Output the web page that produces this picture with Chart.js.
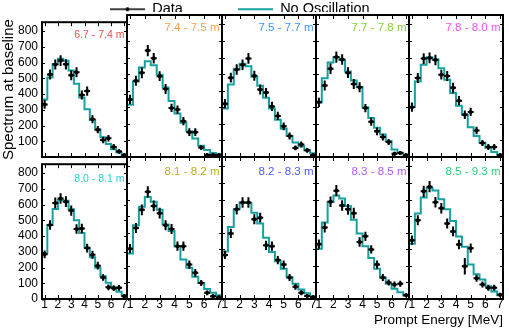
<!DOCTYPE html>
<html>
<head>
<meta charset="utf-8">
<script src="https://cdn.jsdelivr.net/npm/chart.js@4.4.1/dist/chart.umd.min.js"></script>
<style>
  html, body { margin: 0; padding: 0; background: #fff; }
  #fig { position: relative; width: 509px; height: 329px; overflow: hidden; background: #fff; }
  #fig canvas { position: absolute; }
</style>
</head>
<body>
<div id="fig"></div>
<script>
// bins: 16 x 0.4 MeV from 0.8 to 7.2 MeV
const binEdges = [0.8, 1.2, 1.6, 2.0, 2.4, 2.8, 3.2, 3.6, 4.0, 4.4, 4.8, 5.2, 5.6, 6.0, 6.4, 6.8, 7.2];
const binCenters = [1.0, 1.4, 1.8, 2.2, 2.6, 3.0, 3.4, 3.8, 4.2, 4.6, 5.0, 5.4, 5.8, 6.2, 6.6, 7.0];

const baselines = ["6.7 - 7.4 m", "7.4 - 7.5 m", "7.5 - 7.7 m", "7.7 - 7.8 m", "7.8 - 8.0 m",
                   "8.0 - 8.1 m", "8.1 - 8.2 m", "8.2 - 8.3 m", "8.3 - 8.5 m", "8.5 - 9.3 m"];
const baselineColors = ["#f54b4b", "#f5a050", "#3c96ff", "#82d23c", "#f550f0",
                        "#28d2d2", "#b9af28", "#505aff", "#b45aff", "#28d278"];
const legendLabels = ["Data", "No Oscillation"];

// No Oscillation prediction per baseline segment
const noOsc1  = [365, 506, 592, 625, 612, 550, 465, 378, 303, 235, 175, 125, 83, 50, 29, 12];
const noOsc2  = [315, 455, 540, 578, 553, 496, 420, 338, 262, 206, 156, 112, 68, 42, 24, 16];
const noOsc3  = [292, 437, 530, 563, 548, 485, 430, 357, 293, 225, 170, 128, 87, 65, 40, 22];
const noOsc4  = [330, 476, 570, 602, 586, 516, 462, 422, 300, 236, 176, 136, 96, 46, 26, 14];
const noOsc5  = [302, 456, 556, 602, 590, 536, 466, 386, 310, 256, 180, 126, 86, 56, 30, 10];
const noOsc6  = [291, 471, 572, 630, 624, 570, 501, 420, 326, 266, 198, 144, 104, 74, 46, 24];
const noOsc7  = [274, 445, 557, 616, 587, 539, 450, 410, 319, 238, 188, 135, 97, 61, 38, 23];
const noOsc8  = [286, 435, 541, 582, 580, 521, 455, 370, 284, 228, 183, 132, 92, 57, 34, 16];
const noOsc9  = [304, 461, 587, 624, 607, 561, 478, 395, 319, 248, 183, 129, 92, 62, 41, 21];
const noOsc10 = [334, 516, 612, 670, 655, 602, 541, 471, 377, 316, 208, 150, 117, 77, 46, 23];

// measured spectra
const data1  = [334, 524, 588, 613, 589, 520, 539, 394, 419, 240, 174, 108, 119, 64, 35, 12];
const data2  = [347, 460, 508, 642, 596, 488, 410, 296, 286, 216, 150, 150, 58, 12, 12, 12];
const data3  = [322, 479, 528, 557, 595, 490, 407, 389, 305, 248, 185, 127, 55, 75, 40, 10];
const data4  = [330, 431, 533, 603, 588, 509, 440, 421, 295, 213, 155, 120, 90, 20, 24, 10];
const data5  = [301, 477, 594, 598, 585, 497, 489, 418, 340, 255, 272, 160, 85, 61, 61, 12];
const data6  = [284, 470, 611, 639, 619, 562, 445, 448, 324, 281, 212, 137, 74, 69, 71, 18];
const data7  = [304, 428, 538, 647, 562, 518, 445, 423, 319, 319, 208, 158, 97, 37, 16, 10];
const data8  = [266, 396, 542, 582, 582, 481, 491, 324, 319, 235, 208, 130, 74, 38, 18, 11];
const data9  = [331, 432, 587, 654, 564, 541, 518, 344, 378, 299, 208, 130, 99, 87, 92, 23];
const data10 = [355, 475, 650, 678, 584, 548, 456, 408, 329, 198, 307, 125, 87, 68, 68, 26];

// error bars (half length)
const err1  = [28, 32, 32, 34, 32, 32, 32, 28, 30, 25, 23, 21, 21, 18, 15, 12];
const err2  = [28, 30, 32, 34, 32, 30, 30, 25, 25, 25, 23, 23, 15, 12, 12, 12];
const err3  = [28, 30, 32, 32, 32, 30, 30, 28, 28, 25, 23, 21, 15, 18, 15, 12];
const err4  = [28, 30, 32, 34, 32, 32, 30, 30, 25, 25, 23, 21, 18, 12, 12, 12];
const err5  = [28, 30, 32, 32, 32, 30, 30, 30, 28, 25, 25, 23, 18, 18, 18, 12];
const err6  = [25, 30, 34, 34, 34, 32, 30, 30, 28, 25, 25, 21, 18, 18, 18, 12];
const err7  = [28, 30, 32, 34, 32, 32, 30, 30, 28, 28, 25, 23, 18, 15, 12, 12];
const err8  = [25, 28, 32, 32, 32, 30, 30, 28, 28, 25, 25, 21, 18, 15, 12, 12];
const err9  = [28, 30, 32, 34, 32, 32, 32, 28, 28, 25, 25, 21, 18, 18, 18, 12];
const err10 = [28, 30, 34, 34, 32, 32, 30, 30, 28, 50, 28, 21, 18, 18, 18, 12];

const yTicksMax = 857;
const xTitle = "Prompt Energy [MeV]";
const yTitle = "Spectrum at baseline";

const noOscAll = [noOsc1, noOsc2, noOsc3, noOsc4, noOsc5, noOsc6, noOsc7, noOsc8, noOsc9, noOsc10];
const dataAll = [data1, data2, data3, data4, data5, data6, data7, data8, data9, data10];
const errAll = [err1, err2, err3, err4, err5, err6, err7, err8, err9, err10];

// page layout of the 5x2 grid of plot areas
const colEdges = [42, 127, 222, 316, 409, 503];
const rowEdges = [15, 157, 299];
const M = { left: 42, right: 6, top: 4, bottom: 30 };
const TEAL = "#17a0a0";
const FONT = "'Liberation Sans', Arial, Helvetica, sans-serif";

Chart.defaults.font.family = FONT;
Chart.defaults.color = "#000";

const fig = document.getElementById("fig");

function addCanvas(left, top, w, h) {
    const cv = document.createElement("canvas");
    cv.width = w;
    cv.height = h;
    cv.style.left = left + "px";
    cv.style.top = top + "px";
    cv.style.width = w + "px";
    cv.style.height = h + "px";
    fig.appendChild(cv);
    return cv;
}

// frame, inward ticks, error bars and the baseline label
const panelDeco = {
    id: "panelDeco",
    afterDatasetsDraw(chart, args, opts) {
        const ctx = chart.ctx;
        const xs = chart.scales.x, ys = chart.scales.y;
        ctx.save();
        ctx.strokeStyle = "#000";
        ctx.lineWidth = 2;
        opts.values.forEach((v, i) => {
            const px = xs.getPixelForValue(binCenters[i]);
            const y1 = ys.getPixelForValue(v + opts.err[i]);
            const y2 = ys.getPixelForValue(Math.max(v - opts.err[i], 0));
            const py = ys.getPixelForValue(v);
            ctx.beginPath();
            ctx.moveTo(px, y1);
            ctx.lineTo(px, y2);
            ctx.moveTo(px - 3, py);
            ctx.lineTo(px + 3, py);
            ctx.stroke();
        });
        ctx.restore();
    },
    afterDraw(chart, args, opts) {
        const ctx = chart.ctx;
        const a = chart.chartArea;
        const xs = chart.scales.x, ys = chart.scales.y;
        ctx.save();
        ctx.strokeStyle = "#000";
        ctx.lineWidth = 1;
        ctx.beginPath();
        xs.ticks.forEach(t => {
            const px = Math.round(xs.getPixelForValue(t.value)) + 0.5;
            ctx.moveTo(px, a.bottom); ctx.lineTo(px, a.bottom - 4);
            ctx.moveTo(px, a.top); ctx.lineTo(px, a.top + 4);
        });
        ys.ticks.forEach(t => {
            const py = Math.round(ys.getPixelForValue(t.value)) + 0.5;
            ctx.moveTo(a.left, py); ctx.lineTo(a.left + 3, py);
            ctx.moveTo(a.right, py); ctx.lineTo(a.right - 3, py);
        });
        ctx.stroke();

        ctx.lineWidth = 2;
        ctx.strokeRect(a.left, a.top, a.right - a.left, a.bottom - a.top);

        ctx.fillStyle = opts.color;
        ctx.font = opts.labelSize + "px " + FONT;
        ctx.textAlign = "right";
        ctx.textBaseline = "middle";
        ctx.fillText(opts.label, a.right - 2.5, a.top + opts.labelDy);

        if (opts.xTitle) {
            ctx.fillStyle = "#000";
            ctx.font = "13.5px " + FONT;
            ctx.textAlign = "right";
            ctx.fillText(opts.xTitle, a.right, chart.height - 8.5);
        }
        ctx.restore();
    }
};

function makePanel(i) {
    const col = i % 5, row = Math.floor(i / 5);
    const plotL = colEdges[col], plotR = colEdges[col + 1];
    const plotT = rowEdges[row], plotB = rowEdges[row + 1];
    const w = plotR - plotL + M.left + M.right;
    const h = plotB - plotT + M.top + M.bottom;
    const cv = addCanvas(plotL - M.left, plotT - M.top, w, h);

    const hist = binEdges.map((e, k) => ({ x: e, y: noOscAll[i][Math.min(k, 15)] }));
    const pts = binCenters.map((c, k) => ({ x: c, y: dataAll[i][k] }));

    new Chart(cv, {
        type: "line",
        data: {
            datasets: [
                {
                    label: legendLabels[0],
                    data: pts,
                    showLine: false,
                    pointRadius: 2,
                    pointHoverRadius: 0,
                    pointBorderWidth: 0,
                    pointBackgroundColor: "#000",
                },
                {
                    label: legendLabels[1],
                    data: hist,
                    stepped: true,
                    borderColor: TEAL,
                    borderWidth: 2,
                    pointRadius: 0,
                    fill: false,
                },
            ],
        },
        options: {
            responsive: false,
            animation: false,
            devicePixelRatio: 1,
            events: [],
            layout: { padding: { left: 0, right: M.right, top: M.top, bottom: 0 } },
            scales: {
                x: {
                    type: "linear",
                    min: 0.8,
                    max: 7.2,
                    grid: { display: false, drawTicks: false },
                    border: { display: false },
                    ticks: {
                        display: row === 1,
                        stepSize: 1,
                        includeBounds: false,
                        autoSkip: false,
                        maxRotation: 0,
                        padding: 0,
                        font: { size: 12, lineHeight: 1 },
                        color: "#000",
                    },
                    afterFit: s => { s.height = M.bottom; },
                },
                y: {
                    type: "linear",
                    min: 0,
                    max: yTicksMax,
                    grid: { display: false, drawTicks: false },
                    border: { display: false },
                    ticks: {
                        display: col === 0,
                        stepSize: 100,
                        includeBounds: false,
                        autoSkip: false,
                        padding: 4,
                        font: { size: 12 },
                        color: "#000",
                        callback: v => (row === 0 && v === 0) ? "" : v,
                    },
                    title: {
                        display: i === 0,
                        text: yTitle,
                        font: { size: 15 },
                        color: "#000",
                        padding: 0,
                    },
                    afterFit: s => { s.width = M.left; },
                },
            },
            plugins: {
                legend: { display: false },
                tooltip: { enabled: false },
                panelDeco: {
                    values: dataAll[i],
                    err: errAll[i],
                    label: baselines[i],
                    color: baselineColors[i],
                    labelSize: col === 0 ? 10.5 : 11.5,
                    labelDy: row === 0 ? 12.5 : 15,
                    xTitle: i === 9 ? xTitle : null,
                },
            },
        },
        plugins: [panelDeco],
    });
}

for (let i = 0; i < 10; i++) makePanel(i);

// legend symbols
function icon(withDot, color, width) {
    const c = document.createElement("canvas");
    c.width = 35;
    c.height = 8;
    const g = c.getContext("2d");
    g.strokeStyle = color;
    g.lineWidth = width;
    g.beginPath();
    g.moveTo(0, 4);
    g.lineTo(35, 4);
    g.stroke();
    if (withDot) {
        g.fillStyle = color;
        g.beginPath();
        g.arc(17.5, 4, 2, 0, Math.PI * 2);
        g.fill();
    }
    return c;
}
const dataIcon = icon(true, "#000", 1.5);
const noOscIcon = icon(false, TEAL, 2);

const legCv = addCanvas(0, -53, 509, 130);
new Chart(legCv, {
    type: "line",
    data: {
        datasets: [
            { label: legendLabels[0], data: [] },
            { label: legendLabels[1], data: [] },
        ],
    },
    options: {
        responsive: false,
        animation: false,
        devicePixelRatio: 1,
        events: [],
        layout: { padding: { left: 55 } },
        scales: { x: { display: false }, y: { display: false } },
        plugins: {
            tooltip: { enabled: false },
            legend: {
                display: true,
                position: "top",
                align: "start",
                labels: {
                    usePointStyle: true,
                    pointStyleWidth: 35,
                    padding: 55,
                    color: "#000",
                    font: { size: 14.5 },
                    generateLabels: () => [
                        { text: legendLabels[0], pointStyle: dataIcon, fillStyle: "#000", strokeStyle: "#000", lineWidth: 0, hidden: false, datasetIndex: 0 },
                        { text: legendLabels[1], pointStyle: noOscIcon, fillStyle: TEAL, strokeStyle: TEAL, lineWidth: 0, hidden: false, datasetIndex: 1 },
                    ],
                },
            },
        },
    },
});
</script>
</body>
</html>
